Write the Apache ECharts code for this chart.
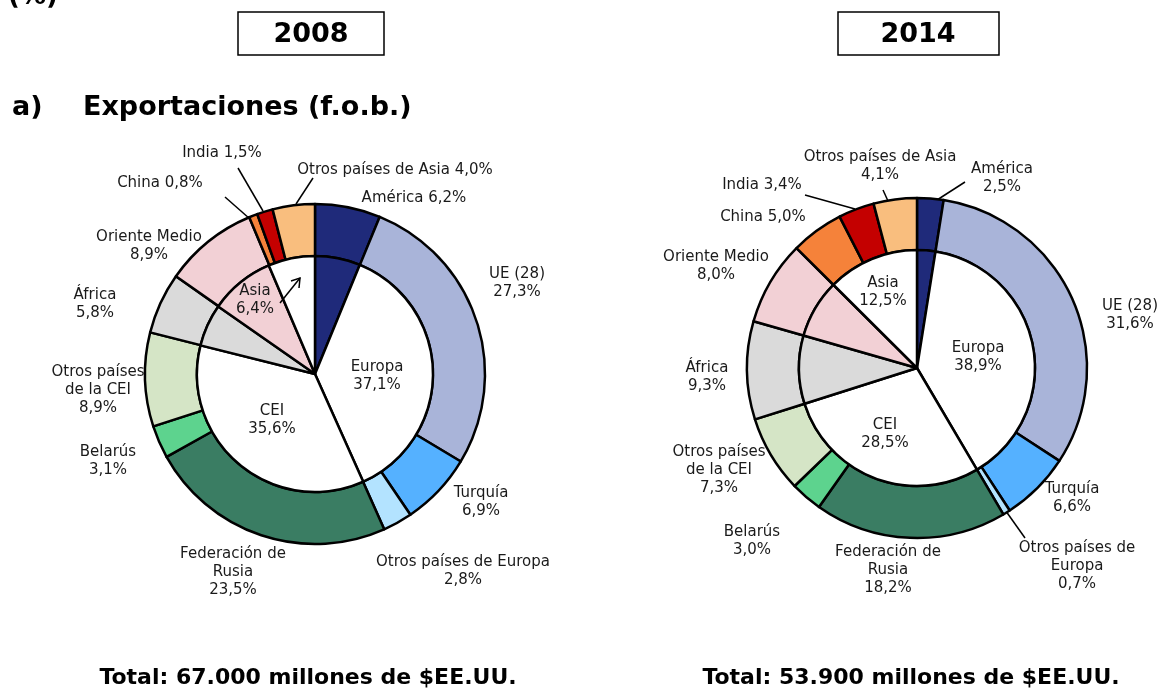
<!DOCTYPE html>
<html>
<head>
<meta charset="utf-8">
<script src="https://cdn.jsdelivr.net/npm/echarts@6/dist/echarts.min.js"></script>
<style>
  html,body{margin:0;padding:0;background:#fff;}
  #main{width:1160px;height:689px;}
</style>
</head>
<body>
<div id="main"></div>
<script>
// anillo exterior: países / subregiones
const outerNames = ['América','UE (28)','Turquía','Otros países de Europa','Federación de Rusia','Belarús',
    'Otros países de la CEI','África','Oriente Medio','China','India','Otros países de Asia'];
const outer2008 = [6.2,27.3,6.9,2.8,23.5,3.1,8.9,5.8,8.9,0.8,1.5,4.0];
const outer2014 = [2.5,31.6,6.6,0.7,18.2,3.0,7.3,9.3,8.0,5.0,3.4,4.1];
// círculo interior: regiones
const innerNames = ['América','Europa','CEI','África','Oriente Medio','Asia'];
const inner2008 = [6.2,37.1,35.6,5.8,8.9,6.4];
const inner2014 = [2.5,38.9,28.5,9.3,8.0,12.5];
const totals = ['Total: 67.000 millones de $EE.UU.','Total: 53.900 millones de $EE.UU.'];
const years = ['2008','2014'];

// texto de etiquetas (saltos de línea como en el original)
const txt2008 = ['América ','UE (28)\n','Turquía\n','Otros países de Europa\n','Federación de\nRusia\n','Belarús\n',
    'Otros países\nde la CEI\n','África\n','Oriente Medio\n','China ','India ','Otros países de Asia '];
const txt2014 = ['América\n','UE (28)\n','Turquía\n','Otros países de\nEuropa\n','Federación de\nRusia\n','Belarús\n',
    'Otros países\nde la CEI\n','África\n','Oriente Medio\n','China ','India ','Otros países de Asia\n'];
const innerTxt = [null,'Europa\n','CEI\n',null,null,'Asia\n'];

const outerColors = ['#1f2a7a','#a9b4d9','#55b1ff','#b3e3ff','#3a7d63','#5dd38e',
    '#d5e5c6','#dadada','#f2d0d5','#f5823a','#c40000','#f9be7e'];
const innerColors = ['#1f2a7a','#ffffff','#ffffff','#dadada','#f2d0d5','#ffffff'];

// posiciones de etiquetas
const pos2008 = [[414,198],[517,283],[481,502],[463,571],[233,572],[108,461],[98,390],[95,304],[149,246],[160,183],[222,153],[395,170]];
const pos2014 = [[1002,178],[1130,315],[1072,498],[1077,566],[888,570],[752,541],[719,470],[707,377],[716,266],[763,217],[762,185],[880,166]];
const lines2008 = {9:[[225,197],[250,219]],10:[[238,168],[263,211]],11:[[313,178],[296,204]]};
const lines2014 = {0:[[965,182],[937,200]],3:[[1025,538],[1003,507]],10:[[805,195],[855,209]],11:[[883,190],[888,201]]};
const posIn2008 = [null,[377,376],[272,420],null,null,[255,300]];
const posIn2014 = [null,[978,357],[885,434],null,null,[883,292]];

const fmt = v => v.toFixed(1).replace('.', ',') + '%';
const font = 'DejaVu Sans';

function outerSeries(vals, txt, pos, lines, center) {
    return {
        type:'pie', radius:[118,170], center:center, startAngle:90, clockwise:true,
        avoidLabelOverlap:false, emphasis:{disabled:true}, silent:true,
        itemStyle:{borderColor:'#000',borderWidth:2.5},
        label:{show:true, position:'outside', fontFamily:font, fontSize:15, color:'#1a1a1a', lineHeight:18, align:'center'},
        labelLine:{show:false, lineStyle:{color:'#000',width:1.5}},
        data: vals.map((v,i)=>({
            value:v, name:outerNames[i],
            itemStyle:{color:outerColors[i]},
            label:{formatter: txt[i] + fmt(v)},
            labelLine:{show: !!lines[i]}
        })),
        labelLayout: function (p) {
            const q = pos[p.dataIndex];
            const r = {x:q[0], y:q[1], align:'center', verticalAlign:'middle'};
            const l = lines[p.dataIndex];
            if (l) r.labelLinePoints = [l[0], l[0], l[1]];
            return r;
        }
    };
}

function innerSeries(vals, pos, center) {
    return {
        type:'pie', radius:[0,118], center:center, startAngle:90, clockwise:true,
        avoidLabelOverlap:false, emphasis:{disabled:true}, silent:true,
        itemStyle:{borderColor:'#000',borderWidth:2.5},
        label:{show:false, position:'inside', fontFamily:font, fontSize:15, color:'#1a1a1a', lineHeight:18, align:'center'},
        labelLine:{show:false},
        data: vals.map((v,i)=>({
            value:v, name:innerNames[i],
            itemStyle:{color:innerColors[i]},
            label: innerTxt[i] ? {show:true, formatter: innerTxt[i] + fmt(v)} : {show:false}
        })),
        labelLayout: function (p) {
            const q = pos[p.dataIndex];
            if (!q) return {};
            return {x:q[0], y:q[1], align:'center', verticalAlign:'middle'};
        }
    };
}

const chart = echarts.init(document.getElementById('main'));
const bold = {fontFamily:font, fontWeight:'bold', fill:'#000'};
chart.setOption({
    animation:false,
    series:[
        outerSeries(outer2008, txt2008, pos2008, lines2008, [315,374]),
        innerSeries(inner2008, posIn2008, [315,374]),
        outerSeries(outer2014, txt2014, pos2014, lines2014, [917,368]),
        innerSeries(inner2014, posIn2014, [917,368])
    ],
    graphic:[
        {type:'text', left:8, top:-16, style:Object.assign({text:'(%)', fontSize:26}, bold)},
        {type:'rect', shape:{x:238,y:12,width:146,height:43}, style:{fill:'#fff',stroke:'#000',lineWidth:1.5}},
        {type:'text', x:311, y:35, style:Object.assign({text:years[0], fontSize:27, align:'center', verticalAlign:'middle'}, bold)},
        {type:'rect', shape:{x:838,y:12,width:161,height:43}, style:{fill:'#fff',stroke:'#000',lineWidth:1.5}},
        {type:'text', x:918, y:35, style:Object.assign({text:years[1], fontSize:27, align:'center', verticalAlign:'middle'}, bold)},
        {type:'text', x:12, y:108, style:Object.assign({text:'a)', fontSize:27, verticalAlign:'middle'}, bold)},
        {type:'text', x:83, y:108, style:Object.assign({text:'Exportaciones (f.o.b.)', fontSize:27, verticalAlign:'middle'}, bold)},
        {type:'text', x:308, y:678, style:Object.assign({text:totals[0], fontSize:22, align:'center', verticalAlign:'middle'}, bold)},
        {type:'text', x:911, y:678, style:Object.assign({text:totals[1], fontSize:22, align:'center', verticalAlign:'middle'}, bold)},
        // flecha Asia 2008
        {type:'polyline', z:100, shape:{points:[[280,303],[300,278]]}, style:{stroke:'#000',lineWidth:1.5,fill:null}},
        {type:'polyline', z:100, shape:{points:[[291,281],[300,278],[299,288]]}, style:{stroke:'#000',lineWidth:1.5,fill:null}}
    ]
});
</script>
</body>
</html>
